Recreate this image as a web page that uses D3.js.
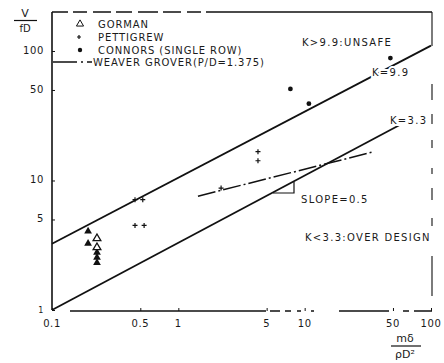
<!DOCTYPE html>
<html>
<head>
<meta charset="utf-8">
<script src="https://cdn.jsdelivr.net/npm/d3@7"></script>
<style>
    body { margin: 0; background: #fff; }
    svg text { font-family: "DejaVu Sans", sans-serif; fill: #1a1a1a; }
</style>
</head>
<body>
<svg></svg>
<script>
let width = 444;
let height = 363;
let plotLeft = 52, plotRight = 431, plotTop = 12, plotBottom = 310;

// tick values / labels
let xTicks = [0.1, 0.5, 1, 5, 10, 50, 100];
let xTickLabels = ["0.1", "0.5", "1", "5", "10", "50", "100"];
let yTicks = [1, 5, 10, 50, 100];
let yTickLabels = ["1", "5", "10", "50", "100"];

// GORMAN (triangles)
let cormanX = [0.193, 0.193, 0.227, 0.227, 0.227];
let cormanY = [4.05, 3.26, 2.78, 2.54, 2.32];
let cormanOpenX = [0.227, 0.227];
let cormanOpenY = [3.57, 3.04];

// PETTIGREW (+)
let pettigrewX = [0.454, 0.523, 0.454, 0.536, 4.27, 4.27, 2.18];
let pettigrewY = [7.11, 7.11, 4.5, 4.5, 16.7, 14.2, 8.74];

// CONNORS (single row)
let connorsX = [7.71, 10.8, 47.7];
let connorsY = [50.9, 39.2, 88.2];

// stability lines K=9.9 / K=3.3 and Weaver Grover
let upperX = [0.1, 100];
let upperY = [3.25, 110];
let lowerX = [0.1, 56];
let lowerY = [1.0, 26.7];
let weaverX = [1.43, 35.5];
let weaverY = [7.57, 16.7];

let svg = d3.select("svg")
    .attr("width", width)
    .attr("height", height);

let scaleX = d3.scaleLog().domain([0.1, 100]).range([plotLeft, plotRight]);
let scaleY = d3.scaleLog().domain([1, 200]).range([plotBottom, plotTop]);

// frame (the scan has broken top / right / bottom edges)
svg.append("line").attr("x1", plotLeft).attr("y1", plotTop).attr("x2", plotLeft).attr("y2", plotBottom)
    .attr("stroke", "#111").attr("stroke-width", 1.6);
svg.append("line").attr("x1", plotLeft).attr("y1", plotTop).attr("x2", plotRight + 1).attr("y2", plotTop)
    .attr("stroke", "#111").attr("stroke-width", 1.3)
    .attr("stroke-dasharray", "16,5,14,6,18,5,16,6,20,5,18,6,14,5,300");
svg.append("line").attr("x1", plotRight + 1).attr("y1", plotTop).attr("x2", plotRight + 1).attr("y2", plotBottom)
    .attr("stroke", "#111").attr("stroke-width", 1.1)
    .attr("stroke-dasharray", "34,38,16,14,10,16,8,20,6,14,12,18,8,30,40");
svg.append("line").attr("x1", plotLeft).attr("y1", plotBottom + 1).attr("x2", plotRight + 1).attr("y2", plotBottom + 1)
    .attr("stroke", "#111").attr("stroke-width", 1.3)
    .attr("stroke-dasharray", "0,18,196,4,10,5,6,6,4,10,3,25,50,14,6,5,20");

// axes
let axisX = d3.axisTop(scaleX).tickValues(xTicks).tickSize(3).tickFormat("");
svg.append("g")
    .attr("transform", `translate(0, ${plotBottom + 1})`)
    .call(axisX)
    .call(g => g.select(".domain").remove())
    .selectAll("line").attr("stroke", "#111");

let axisY = d3.axisRight(scaleY).tickValues(yTicks).tickSize(3).tickFormat("");
svg.append("g")
    .attr("transform", `translate(${plotLeft}, 0)`)
    .call(axisY)
    .call(g => g.select(".domain").remove())
    .selectAll("line").attr("stroke", "#111");

svg.append("g")
    .selectAll("text")
    .data(xTicks)
    .enter()
    .append("text")
    .attr("x", d => scaleX(d))
    .attr("y", 327)
    .attr("text-anchor", "middle")
    .style("font-size", "10px")
    .style("letter-spacing", "0.6px")
    .text((d, i) => xTickLabels[i]);

svg.append("g")
    .selectAll("text")
    .data(yTicks)
    .enter()
    .append("text")
    .attr("x", 44)
    .attr("y", d => scaleY(d) + 3)
    .attr("text-anchor", "end")
    .style("font-size", d => d === 1 ? "8px" : "10px")
    .style("letter-spacing", "0.6px")
    .text((d, i) => yTickLabels[i]);

// axis titles as fractions
svg.append("text").attr("x", 25).attr("y", 17).attr("text-anchor", "middle")
    .style("font-size", "11px").text("V");
svg.append("line").attr("x1", 14).attr("x2", 37).attr("y1", 20.5).attr("y2", 20.5)
    .attr("stroke", "#111").attr("stroke-width", 1.2);
svg.append("text").attr("x", 25).attr("y", 32).attr("text-anchor", "middle")
    .style("font-size", "10px").text("fD");

svg.append("text").attr("x", 405).attr("y", 342).attr("text-anchor", "middle")
    .style("font-size", "11px").text("mδ");
svg.append("line").attr("x1", 391).attr("x2", 421).attr("y1", 346).attr("y2", 346)
    .attr("stroke", "#111").attr("stroke-width", 1.2);
svg.append("text").attr("x", 405).attr("y", 358).attr("text-anchor", "middle")
    .style("font-size", "11px").text("ρD²");

// lines
function drawLine(xs, ys, dash, w) {
    let pts = xs.map((x, i) => [scaleX(x), scaleY(ys[i])]);
    svg.append("path")
        .attr("d", d3.line()(pts))
        .attr("fill", "none")
        .attr("stroke", "#111")
        .attr("stroke-width", w)
        .attr("stroke-dasharray", dash);
}
drawLine(upperX, upperY, null, 1.8);
drawLine(lowerX, lowerY, null, 1.8);
drawLine(weaverX, weaverY, "18,3,2,3", 1.5);

// slope triangle under the K=3.3 line
let slopeX1 = 273, slopeX2 = 294, slopeY = 193;
svg.append("path")
    .attr("d", `M${slopeX1},${slopeY} H${slopeX2} V${slopeY - 11}`)
    .attr("fill", "none").attr("stroke", "#111").attr("stroke-width", 1.2);

// markers
let tri = d3.symbol().type(d3.symbolTriangle).size(26);
svg.append("g")
    .selectAll("path")
    .data(cormanX)
    .enter()
    .append("path")
    .attr("d", tri)
    .attr("transform", (d, i) => `translate(${scaleX(d)}, ${scaleY(cormanY[i])})`)
    .attr("fill", "#111");
svg.append("g")
    .selectAll("path")
    .data(cormanOpenX)
    .enter()
    .append("path")
    .attr("d", tri)
    .attr("transform", (d, i) => `translate(${scaleX(d)}, ${scaleY(cormanOpenY[i])})`)
    .attr("fill", "#fff").attr("stroke", "#111").attr("stroke-width", 1.3);

svg.append("g")
    .selectAll("path")
    .data(pettigrewX)
    .enter()
    .append("path")
    .attr("d", "M-2.5,0H2.5M0,-2.5V2.5")
    .attr("transform", (d, i) => `translate(${scaleX(d)}, ${scaleY(pettigrewY[i])})`)
    .attr("stroke", "#111").attr("stroke-width", 1.2);

svg.append("g")
    .selectAll("circle")
    .data(connorsX)
    .enter()
    .append("circle")
    .attr("cx", d => scaleX(d))
    .attr("cy", (d, i) => scaleY(connorsY[i]))
    .attr("r", 2.4)
    .attr("fill", "#111");

// legend
let legY = [24, 37, 50, 62];
svg.append("path").attr("d", d3.symbol().type(d3.symbolTriangle).size(22)())
    .attr("transform", `translate(80, ${legY[0]})`)
    .attr("fill", "#fff").attr("stroke", "#111").attr("stroke-width", 1);
svg.append("path").attr("d", "M-2,0H2M0,-2V2")
    .attr("transform", `translate(79, ${legY[1]})`)
    .attr("stroke", "#111").attr("stroke-width", 1.2);
svg.append("circle").attr("cx", 80).attr("cy", legY[2]).attr("r", 2.2).attr("fill", "#111");
svg.append("line").attr("x1", 53).attr("x2", 92).attr("y1", legY[3]).attr("y2", legY[3])
    .attr("stroke", "#111").attr("stroke-width", 1.5).attr("stroke-dasharray", "24,4,2,4,8");

let legText = ["GORMAN", "PETTIGREW", "CONNORS (SINGLE ROW)", "WEAVER GROVER(P/D=1.375)"];
let legTextX = [98, 98, 98, 93];
svg.append("g")
    .selectAll("text")
    .data(legText)
    .enter()
    .append("text")
    .attr("x", (d, i) => legTextX[i])
    .attr("y", (d, i) => legY[i] + 4)
    .style("font-size", "10px")
    .style("letter-spacing", "0.9px")
    .text(d => d);

// region labels
function label(x, y, t, halo) {
    svg.append("text")
        .attr("x", x).attr("y", y)
        .style("font-size", "10px")
        .style("letter-spacing", "1.3px")
        .attr("stroke", halo ? "#fff" : null)
        .attr("stroke-width", halo ? 4 : null)
        .attr("paint-order", "stroke")
        .text(t);
}
label(302, 46, "K>9.9:UNSAFE", false);
label(372, 76, "K=9.9", true);
label(390, 124, "K=3.3", true);
label(301, 203, "SLOPE=0.5", false);
label(305, 241, "K<3.3:OVER DESIGN", false);
</script>
</body>
</html>
